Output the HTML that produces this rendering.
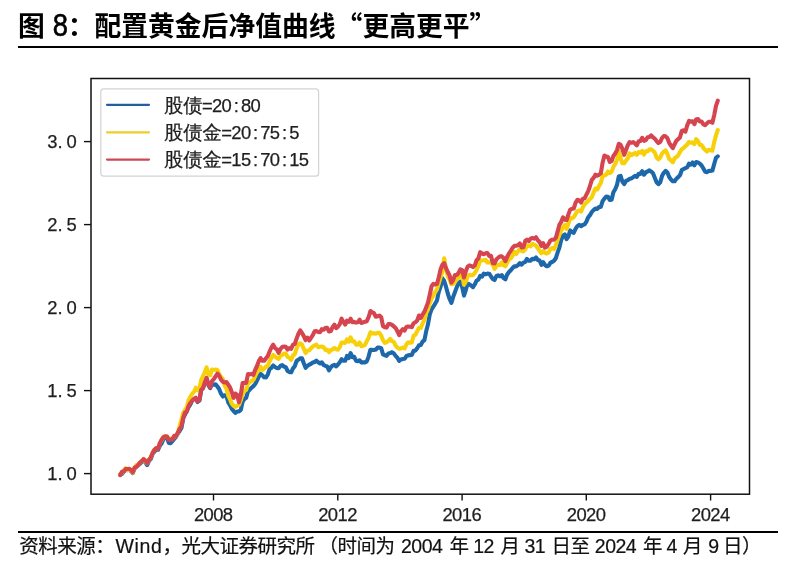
<!DOCTYPE html>
<html><head><meta charset="utf-8"><title>图 8</title>
<style>
html,body{margin:0;padding:0;background:#fff;}
body{width:792px;height:571px;position:relative;overflow:hidden;}
.title{position:absolute;left:18px;top:5px;font-family:"Liberation Sans","Noto Sans CJK SC",sans-serif;font-weight:bold;font-size:26.8px;line-height:40px;color:#000;white-space:nowrap;}
.rule{position:absolute;left:18px;width:760px;background:#000;}
.foot{position:absolute;left:0;top:532.5px;width:792px;height:28px;font-family:"Liberation Sans","Noto Sans CJK SC",sans-serif;font-size:19.5px;letter-spacing:-0.5px;-webkit-text-stroke:0.2px #111;line-height:26px;color:#111;white-space:nowrap;}
.foot span{position:absolute;top:0;}
.foot .w{letter-spacing:0.6px;}
svg{position:absolute;left:0;top:0;}
svg text{fill:#1e1e1e;stroke:#1e1e1e;stroke-width:0.25px;}
svg .l{font-family:"Liberation Sans",sans-serif;font-size:18.4px;}
svg .c{font-family:"Liberation Sans","WenQuanYi Zen Hei","Noto Sans CJK SC",sans-serif;font-size:19.3px;}
.q{font-family:"Noto Sans CJK SC",sans-serif;}
.d8{display:inline-block;font-size:29.8px;font-weight:normal;-webkit-text-stroke:0.6px #000;margin-right:-1.2px;transform:scale(0.92,1.075);transform-origin:50% 71%;}
</style></head><body>
<div class="title">图 <span class="d8">8</span>：配置黄金后净值曲线<span class="q">“</span>更高更平<span class="q">”</span></div>
<div class="rule" style="top:46px;height:2px"></div>
<svg width="792" height="571" viewBox="0 0 792 571">
<g fill="none" stroke-linejoin="round" stroke-linecap="round" stroke-width="4.1">
<path d="M120.2,474.7 L122.0,473.9 L123.8,471.7 L125.6,469.3 L127.4,470.1 L129.2,469.6 L131.0,471.1 L132.8,473.1 L134.6,468.6 L136.4,466.1 L138.2,465.4 L140.0,463.8 L141.8,461.9 L143.6,460.6 L145.4,462.3 L147.2,465.1 L149.0,461.0 L150.8,459.0 L152.6,453.8 L154.4,451.6 L156.2,449.6 L158.0,449.8 L159.8,445.8 L161.6,443.5 L163.4,439.1 L165.2,437.8 L167.0,437.6 L168.8,442.9 L170.6,443.2 L172.4,441.1 L174.2,438.9 L176.0,436.9 L177.8,433.5 L179.6,431.0 L181.4,428.0 L183.2,418.5 L185.0,414.5 L186.8,410.9 L188.6,407.1 L190.4,404.3 L192.2,400.4 L194.0,399.0 L195.8,398.5 L197.6,402.0 L199.4,400.6 L201.2,390.3 L203.0,388.1 L204.8,382.9 L206.6,379.2 L208.4,385.2 L210.2,388.2 L212.0,384.2 L213.8,384.7 L215.6,384.3 L217.4,386.5 L219.2,389.2 L221.0,393.7 L222.8,396.5 L224.6,395.3 L226.4,395.6 L228.2,402.3 L230.0,405.2 L231.8,408.9 L233.6,411.0 L235.4,412.9 L237.2,411.5 L239.0,411.4 L240.8,409.9 L242.6,401.7 L244.4,399.0 L246.2,397.8 L248.0,391.1 L249.8,389.6 L251.6,387.7 L253.4,386.1 L255.2,384.0 L257.0,380.5 L258.8,376.7 L260.6,373.9 L262.4,375.3 L264.2,377.3 L266.0,377.5 L267.8,374.5 L269.6,369.2 L271.4,367.8 L273.2,365.5 L275.0,367.0 L276.8,368.0 L278.6,368.2 L280.4,365.9 L282.2,365.0 L284.0,366.6 L285.8,367.2 L287.6,371.0 L289.4,372.1 L291.2,372.3 L293.0,368.4 L294.8,366.2 L296.6,361.0 L298.4,359.7 L300.2,358.2 L302.0,358.2 L303.8,363.2 L305.6,367.8 L307.4,365.9 L309.2,364.7 L311.0,363.8 L312.8,362.5 L314.6,362.0 L316.4,360.7 L318.2,362.3 L320.0,363.4 L321.8,362.3 L323.6,365.0 L325.4,365.9 L327.2,366.5 L329.0,370.3 L330.8,367.3 L332.6,365.6 L334.4,364.9 L336.2,366.4 L338.0,364.5 L339.8,362.2 L341.6,359.2 L343.4,360.8 L345.2,360.7 L347.0,355.9 L348.8,358.0 L350.6,353.1 L352.4,357.2 L354.2,356.8 L356.0,360.7 L357.8,361.3 L359.6,360.3 L361.4,362.6 L363.2,362.3 L365.0,362.4 L366.8,361.4 L368.6,356.6 L370.4,349.7 L372.2,349.9 L374.0,350.0 L375.8,349.6 L377.6,347.5 L379.4,347.6 L381.2,348.2 L383.0,354.3 L384.8,355.2 L386.6,355.8 L388.4,353.4 L390.2,353.1 L392.0,352.2 L393.8,353.4 L395.6,355.9 L397.4,357.7 L399.2,360.9 L401.0,359.5 L402.8,359.0 L404.6,358.8 L406.4,356.2 L408.2,355.3 L410.0,355.1 L411.8,354.9 L413.6,350.8 L415.4,350.6 L417.2,348.3 L419.0,345.3 L420.8,344.9 L422.6,341.6 L424.4,340.1 L426.2,331.3 L428.0,324.3 L429.8,314.2 L431.6,309.4 L433.4,306.5 L435.2,303.6 L437.0,300.4 L438.8,291.7 L440.6,286.6 L442.4,278.3 L444.2,281.0 L446.0,286.7 L447.8,293.5 L449.6,299.0 L451.4,302.9 L453.2,296.9 L455.0,292.0 L456.8,287.1 L458.6,283.2 L460.4,281.6 L462.2,287.0 L464.0,295.6 L465.8,290.0 L467.6,283.8 L469.4,284.3 L471.2,285.6 L473.0,287.1 L474.8,284.4 L476.6,280.7 L478.4,279.6 L480.2,275.9 L482.0,276.6 L483.8,273.7 L485.6,274.3 L487.4,273.6 L489.2,273.7 L491.0,276.5 L492.8,278.9 L494.6,280.0 L496.4,276.0 L498.2,275.4 L500.0,276.3 L501.8,275.1 L503.6,278.1 L505.4,279.3 L507.2,274.4 L509.0,272.0 L510.8,270.2 L512.6,268.0 L514.4,266.2 L516.2,266.4 L518.0,265.1 L519.8,263.1 L521.6,264.7 L523.4,262.6 L525.2,262.0 L527.0,258.9 L528.8,260.8 L530.6,260.6 L532.4,258.7 L534.2,259.2 L536.0,257.5 L537.8,260.0 L539.6,260.5 L541.4,264.8 L543.2,262.2 L545.0,265.0 L546.8,266.3 L548.6,265.6 L550.4,262.9 L552.2,261.9 L554.0,260.8 L555.8,258.3 L557.6,252.6 L559.4,247.6 L561.2,239.9 L563.0,235.6 L564.8,234.4 L566.6,239.2 L568.4,236.3 L570.2,230.4 L572.0,232.1 L573.8,232.8 L575.6,228.7 L577.4,226.1 L579.2,224.9 L581.0,226.2 L582.8,225.0 L584.6,224.4 L586.4,221.6 L588.2,217.3 L590.0,215.2 L591.8,211.9 L593.6,210.1 L595.4,208.5 L597.2,208.9 L599.0,207.0 L600.8,207.0 L602.6,201.2 L604.4,198.6 L606.2,196.6 L608.0,196.7 L609.8,200.0 L611.6,199.7 L613.4,192.2 L615.2,189.2 L617.0,184.9 L618.8,176.5 L620.6,175.9 L622.4,181.7 L624.2,184.1 L626.0,180.9 L627.8,180.2 L629.6,178.8 L631.4,178.4 L633.2,177.2 L635.0,175.9 L636.8,176.8 L638.6,173.9 L640.4,174.0 L642.2,171.2 L644.0,174.7 L645.8,172.4 L647.6,171.4 L649.4,170.3 L651.2,171.6 L653.0,173.3 L654.8,177.7 L656.6,182.3 L658.4,184.2 L660.2,182.4 L662.0,176.1 L663.8,172.8 L665.6,170.9 L667.4,172.5 L669.2,177.1 L671.0,179.5 L672.8,181.3 L674.6,181.3 L676.4,178.7 L678.2,177.1 L680.0,175.2 L681.8,170.1 L683.6,169.0 L685.4,168.1 L687.2,167.4 L689.0,163.7 L690.8,164.7 L692.6,162.5 L694.4,165.3 L696.2,162.1 L698.0,162.4 L699.8,163.6 L701.6,165.5 L703.4,168.5 L705.2,171.7 L707.0,172.2 L708.8,170.7 L710.6,170.9 L712.4,170.6 L714.2,164.0 L716.0,157.8 L717.8,156.3" stroke="#1d68aa"/>
<path d="M120.2,474.2 L122.0,472.8 L123.8,470.9 L125.6,468.2 L127.4,470.1 L129.2,469.4 L131.0,470.8 L132.8,472.7 L134.6,468.0 L136.4,465.0 L138.2,465.1 L140.0,462.5 L141.8,461.1 L143.6,459.0 L145.4,461.4 L147.2,463.3 L149.0,459.7 L150.8,457.2 L152.6,452.6 L154.4,449.6 L156.2,448.4 L158.0,448.3 L159.8,443.1 L161.6,440.3 L163.4,436.9 L165.2,436.3 L167.0,436.5 L168.8,438.9 L170.6,438.8 L172.4,438.5 L174.2,436.7 L176.0,436.1 L177.8,432.9 L179.6,426.4 L181.4,419.7 L183.2,413.0 L185.0,410.0 L186.8,407.4 L188.6,400.2 L190.4,396.7 L192.2,393.7 L194.0,391.8 L195.8,387.7 L197.6,390.2 L199.4,388.7 L201.2,380.0 L203.0,376.2 L204.8,372.0 L206.6,367.4 L208.4,374.5 L210.2,375.2 L212.0,369.6 L213.8,369.9 L215.6,369.5 L217.4,369.9 L219.2,374.0 L221.0,377.0 L222.8,378.7 L224.6,385.4 L226.4,388.6 L228.2,395.6 L230.0,399.0 L231.8,403.7 L233.6,405.8 L235.4,406.9 L237.2,405.7 L239.0,404.8 L240.8,400.2 L242.6,394.5 L244.4,390.7 L246.2,390.0 L248.0,383.5 L249.8,382.4 L251.6,381.0 L253.4,379.8 L255.2,376.2 L257.0,372.2 L258.8,369.9 L260.6,366.8 L262.4,370.0 L264.2,368.7 L266.0,366.6 L267.8,365.7 L269.6,361.3 L271.4,358.1 L273.2,355.0 L275.0,356.6 L276.8,357.9 L278.6,358.8 L280.4,355.9 L282.2,355.0 L284.0,353.5 L285.8,353.6 L287.6,357.0 L289.4,357.8 L291.2,359.8 L293.0,355.5 L294.8,354.2 L296.6,348.5 L298.4,344.5 L300.2,343.3 L302.0,344.4 L303.8,348.9 L305.6,353.0 L307.4,350.7 L309.2,350.3 L311.0,348.4 L312.8,346.5 L314.6,345.4 L316.4,344.6 L318.2,347.2 L320.0,346.8 L321.8,346.5 L323.6,347.1 L325.4,350.0 L327.2,349.7 L329.0,352.1 L330.8,350.2 L332.6,349.3 L334.4,348.0 L336.2,349.3 L338.0,349.7 L339.8,347.1 L341.6,342.5 L343.4,342.6 L345.2,342.9 L347.0,339.4 L348.8,341.7 L350.6,337.4 L352.4,341.4 L354.2,341.2 L356.0,344.6 L357.8,344.8 L359.6,342.5 L361.4,346.2 L363.2,345.7 L365.0,345.0 L366.8,341.1 L368.6,337.7 L370.4,332.3 L372.2,333.5 L374.0,333.3 L375.8,333.8 L377.6,332.7 L379.4,332.9 L381.2,335.5 L383.0,340.2 L384.8,342.8 L386.6,342.2 L388.4,340.8 L390.2,338.8 L392.0,341.2 L393.8,341.9 L395.6,345.5 L397.4,347.6 L399.2,348.7 L401.0,348.4 L402.8,347.5 L404.6,348.3 L406.4,344.4 L408.2,342.3 L410.0,342.8 L411.8,342.5 L413.6,335.8 L415.4,334.7 L417.2,331.3 L419.0,327.7 L420.8,327.9 L422.6,323.4 L424.4,319.8 L426.2,312.9 L428.0,309.5 L429.8,303.3 L431.6,298.5 L433.4,295.0 L435.2,292.0 L437.0,289.3 L438.8,283.5 L440.6,277.5 L442.4,270.4 L444.2,258.4 L446.0,269.0 L447.8,276.6 L449.6,279.5 L451.4,284.2 L453.2,283.9 L455.0,281.8 L456.8,279.1 L458.6,277.7 L460.4,273.6 L462.2,275.3 L464.0,284.8 L465.8,281.8 L467.6,276.3 L469.4,274.8 L471.2,275.2 L473.0,275.0 L474.8,272.9 L476.6,270.1 L478.4,265.5 L480.2,260.5 L482.0,260.5 L483.8,260.3 L485.6,259.8 L487.4,262.5 L489.2,262.2 L491.0,262.4 L492.8,264.9 L494.6,268.9 L496.4,265.9 L498.2,264.8 L500.0,265.1 L501.8,262.4 L503.6,265.3 L505.4,266.3 L507.2,262.6 L509.0,259.2 L510.8,258.3 L512.6,255.6 L514.4,251.9 L516.2,254.0 L518.0,251.4 L519.8,249.4 L521.6,250.8 L523.4,251.5 L525.2,249.3 L527.0,245.4 L528.8,245.8 L530.6,246.4 L532.4,243.9 L534.2,244.6 L536.0,245.8 L537.8,248.3 L539.6,250.8 L541.4,253.2 L543.2,251.2 L545.0,252.9 L546.8,253.6 L548.6,252.5 L550.4,248.9 L552.2,248.1 L554.0,249.0 L555.8,245.4 L557.6,240.2 L559.4,234.7 L561.2,230.5 L563.0,227.3 L564.8,225.0 L566.6,228.8 L568.4,223.5 L570.2,217.9 L572.0,218.5 L573.8,217.2 L575.6,214.0 L577.4,211.1 L579.2,210.5 L581.0,211.6 L582.8,207.4 L584.6,204.4 L586.4,202.5 L588.2,201.0 L590.0,198.9 L591.8,197.3 L593.6,192.5 L595.4,188.7 L597.2,189.5 L599.0,185.8 L600.8,183.0 L602.6,176.0 L604.4,175.5 L606.2,174.6 L608.0,171.5 L609.8,173.2 L611.6,171.9 L613.4,166.9 L615.2,164.0 L617.0,159.7 L618.8,150.9 L620.6,158.3 L622.4,163.2 L624.2,163.3 L626.0,160.7 L627.8,158.2 L629.6,153.4 L631.4,155.2 L633.2,154.0 L635.0,152.9 L636.8,154.8 L638.6,152.1 L640.4,152.7 L642.2,150.9 L644.0,154.6 L645.8,151.4 L647.6,151.2 L649.4,149.4 L651.2,149.4 L653.0,150.6 L654.8,152.6 L656.6,157.5 L658.4,159.3 L660.2,157.8 L662.0,153.6 L663.8,151.7 L665.6,150.4 L667.4,153.9 L669.2,159.0 L671.0,160.4 L672.8,162.3 L674.6,158.3 L676.4,157.1 L678.2,155.4 L680.0,151.8 L681.8,149.2 L683.6,148.0 L685.4,146.1 L687.2,144.6 L689.0,142.0 L690.8,142.6 L692.6,142.5 L694.4,144.1 L696.2,139.1 L698.0,141.1 L699.8,145.0 L701.6,145.0 L703.4,148.0 L705.2,149.9 L707.0,151.5 L708.8,149.8 L710.6,150.2 L712.4,150.7 L714.2,142.0 L716.0,135.4 L717.8,130.0" stroke="#f8d00a"/>
<path d="M120.2,475.1 L122.0,471.8 L123.8,471.3 L125.6,469.1 L127.4,469.0 L129.2,468.8 L131.0,469.9 L132.8,472.2 L134.6,467.4 L136.4,466.9 L138.2,464.8 L140.0,462.5 L141.8,461.1 L143.6,459.1 L145.4,460.6 L147.2,463.2 L149.0,459.7 L150.8,457.4 L152.6,453.0 L154.4,449.9 L156.2,448.0 L158.0,449.0 L159.8,443.2 L161.6,439.8 L163.4,437.3 L165.2,436.2 L167.0,436.5 L168.8,439.6 L170.6,439.6 L172.4,439.7 L174.2,435.9 L176.0,435.9 L177.8,432.8 L179.6,428.9 L181.4,426.4 L183.2,417.8 L185.0,412.6 L186.8,411.6 L188.6,406.0 L190.4,402.9 L192.2,400.6 L194.0,399.0 L195.8,397.7 L197.6,401.3 L199.4,400.0 L201.2,389.7 L203.0,388.0 L204.8,382.4 L206.6,377.8 L208.4,384.3 L210.2,387.3 L212.0,381.1 L213.8,379.2 L215.6,376.3 L217.4,373.6 L219.2,375.8 L221.0,379.6 L222.8,381.8 L224.6,382.5 L226.4,382.1 L228.2,384.5 L230.0,387.3 L231.8,392.2 L233.6,397.9 L235.4,393.5 L237.2,394.9 L239.0,402.3 L240.8,394.6 L242.6,383.1 L244.4,382.7 L246.2,382.9 L248.0,374.1 L249.8,374.2 L251.6,373.9 L253.4,374.8 L255.2,369.8 L257.0,366.0 L258.8,361.1 L260.6,358.1 L262.4,360.8 L264.2,360.8 L266.0,358.3 L267.8,356.1 L269.6,351.5 L271.4,347.5 L273.2,344.7 L275.0,348.0 L276.8,349.4 L278.6,352.8 L280.4,349.0 L282.2,347.0 L284.0,346.5 L285.8,346.8 L287.6,349.6 L289.4,348.1 L291.2,348.8 L293.0,344.6 L294.8,344.0 L296.6,338.6 L298.4,333.7 L300.2,330.4 L302.0,333.0 L303.8,336.1 L305.6,340.1 L307.4,337.7 L309.2,340.5 L311.0,337.9 L312.8,335.2 L314.6,331.3 L316.4,331.1 L318.2,332.0 L320.0,332.3 L321.8,329.2 L323.6,329.7 L325.4,327.9 L327.2,327.9 L329.0,331.5 L330.8,331.0 L332.6,327.2 L334.4,324.6 L336.2,328.2 L338.0,326.7 L339.8,324.1 L341.6,318.7 L343.4,321.9 L345.2,324.6 L347.0,320.7 L348.8,321.9 L350.6,318.7 L352.4,322.2 L354.2,321.9 L356.0,322.6 L357.8,322.3 L359.6,319.7 L361.4,323.0 L363.2,322.4 L365.0,321.7 L366.8,321.2 L368.6,317.2 L370.4,311.0 L372.2,312.3 L374.0,313.2 L375.8,316.7 L377.6,316.3 L379.4,315.5 L381.2,317.2 L383.0,326.0 L384.8,327.2 L386.6,327.6 L388.4,324.0 L390.2,324.0 L392.0,324.9 L393.8,326.4 L395.6,328.0 L397.4,331.3 L399.2,335.2 L401.0,331.1 L402.8,329.2 L404.6,330.5 L406.4,327.0 L408.2,326.5 L410.0,326.8 L411.8,327.1 L413.6,323.2 L415.4,322.2 L417.2,320.5 L419.0,315.5 L420.8,317.9 L422.6,314.6 L424.4,311.7 L426.2,307.2 L428.0,302.5 L429.8,294.5 L431.6,286.2 L433.4,283.8 L435.2,284.5 L437.0,283.9 L438.8,277.3 L440.6,269.2 L442.4,264.7 L444.2,263.1 L446.0,268.2 L447.8,272.1 L449.6,275.4 L451.4,282.7 L453.2,279.8 L455.0,275.1 L456.8,275.0 L458.6,272.7 L460.4,269.4 L462.2,270.1 L464.0,277.4 L465.8,271.4 L467.6,266.6 L469.4,265.4 L471.2,265.9 L473.0,267.1 L474.8,265.4 L476.6,260.2 L478.4,258.4 L480.2,252.1 L482.0,253.4 L483.8,254.3 L485.6,253.2 L487.4,253.0 L489.2,256.0 L491.0,255.7 L492.8,263.2 L494.6,263.4 L496.4,259.2 L498.2,257.7 L500.0,256.4 L501.8,256.4 L503.6,258.1 L505.4,261.2 L507.2,256.8 L509.0,253.4 L510.8,250.8 L512.6,247.7 L514.4,245.9 L516.2,245.7 L518.0,245.2 L519.8,243.4 L521.6,247.5 L523.4,247.2 L525.2,241.0 L527.0,239.7 L528.8,241.2 L530.6,238.6 L532.4,238.0 L534.2,238.7 L536.0,237.2 L537.8,240.2 L539.6,242.0 L541.4,245.8 L543.2,243.2 L545.0,247.6 L546.8,246.6 L548.6,243.9 L550.4,240.5 L552.2,239.7 L554.0,239.7 L555.8,237.8 L557.6,231.7 L559.4,224.8 L561.2,221.9 L563.0,217.3 L564.8,219.7 L566.6,220.1 L568.4,214.4 L570.2,209.6 L572.0,208.8 L573.8,208.4 L575.6,202.6 L577.4,199.8 L579.2,200.4 L581.0,202.5 L582.8,198.7 L584.6,198.3 L586.4,194.6 L588.2,191.1 L590.0,186.0 L591.8,179.9 L593.6,177.9 L595.4,174.7 L597.2,175.7 L599.0,174.8 L600.8,173.3 L602.6,162.7 L604.4,155.6 L606.2,156.6 L608.0,157.1 L609.8,162.0 L611.6,161.0 L613.4,155.9 L615.2,153.5 L617.0,150.1 L618.8,143.8 L620.6,144.8 L622.4,148.9 L624.2,154.8 L626.0,150.0 L627.8,145.2 L629.6,142.1 L631.4,142.8 L633.2,142.0 L635.0,143.5 L636.8,145.3 L638.6,141.3 L640.4,140.9 L642.2,137.8 L644.0,140.8 L645.8,140.1 L647.6,137.3 L649.4,137.0 L651.2,135.4 L653.0,137.3 L654.8,138.6 L656.6,141.1 L658.4,143.0 L660.2,142.0 L662.0,138.0 L663.8,136.0 L665.6,136.3 L667.4,138.2 L669.2,142.8 L671.0,145.7 L672.8,148.1 L674.6,144.2 L676.4,140.7 L678.2,139.1 L680.0,137.4 L681.8,130.9 L683.6,130.3 L685.4,131.7 L687.2,125.4 L689.0,120.9 L690.8,121.7 L692.6,121.2 L694.4,124.2 L696.2,119.2 L698.0,119.1 L699.8,121.5 L701.6,121.5 L703.4,124.4 L705.2,125.2 L707.0,123.3 L708.8,121.7 L710.6,121.8 L712.4,122.8 L714.2,115.1 L716.0,105.8 L717.8,100.6" stroke="#d6454f"/>
</g>
<rect x="91" y="78.5" width="658.5" height="415.7" fill="none" stroke="#111" stroke-width="1.5"/>
<g stroke="#111" stroke-width="1.4"><line x1="84" y1="473.6" x2="91" y2="473.6"/><line x1="84" y1="390.6" x2="91" y2="390.6"/><line x1="84" y1="307.6" x2="91" y2="307.6"/><line x1="84" y1="224.6" x2="91" y2="224.6"/><line x1="84" y1="141.6" x2="91" y2="141.6"/><line x1="213.5" y1="494" x2="213.5" y2="500.5"/><line x1="337.8" y1="494" x2="337.8" y2="500.5"/><line x1="462.1" y1="494" x2="462.1" y2="500.5"/><line x1="586.3" y1="494" x2="586.3" y2="500.5"/><line x1="710.6" y1="494" x2="710.6" y2="500.5"/></g>
<g><text y="480.2"><tspan class="l" x="47.26 57.60 66.56">1.0</tspan></text><text y="397.2"><tspan class="l" x="47.26 57.60 66.56">1.5</tspan></text><text y="314.2"><tspan class="l" x="47.26 57.60 66.56">2.0</tspan></text><text y="231.2"><tspan class="l" x="47.26 57.60 66.56">2.5</tspan></text><text y="148.2"><tspan class="l" x="47.26 57.60 66.56">3.0</tspan></text><text y="520.7"><tspan class="l" x="193.91 203.56 213.21 222.86">2008</tspan></text><text y="520.7"><tspan class="l" x="318.19 327.84 337.49 347.14">2012</tspan></text><text y="520.7"><tspan class="l" x="442.47 452.12 461.77 471.42">2016</tspan></text><text y="520.7"><tspan class="l" x="566.75 576.40 586.05 595.70">2020</tspan></text><text y="520.7"><tspan class="l" x="691.03 700.68 710.33 719.98">2024</tspan></text></g>
<rect x="100.8" y="88.8" width="217.8" height="87.4" rx="3" ry="3" fill="#fff" fill-opacity="0.8" stroke="#d3d3d3" stroke-width="1.2"/>
<g stroke-width="2.2" stroke-linecap="round">
<line x1="107" y1="104.8" x2="149" y2="104.8" stroke="#22609c"/>
<line x1="107" y1="132.3" x2="149" y2="132.3" stroke="#efcc26"/>
<line x1="107" y1="159.6" x2="149" y2="159.6" stroke="#cc4a56"/>
</g>
<text y="111.6"><tspan class="c" x="164.00 183.30">股债</tspan><tspan class="l" x="202.05 211.96 221.61 233.82 240.91 250.56">=20:80</tspan></text>
<text y="139.0"><tspan class="c" x="164.00 183.30 202.60">股债金</tspan><tspan class="l" x="221.35 231.26 240.91 253.12 260.21 269.86 282.07 289.16">=20:75:5</tspan></text>
<text y="166.3"><tspan class="c" x="164.00 183.30 202.60">股债金</tspan><tspan class="l" x="221.35 231.26 240.91 253.12 260.21 269.86 282.07 289.16 298.81">=15:70:15</tspan></text>
</svg>
<div class="rule" style="top:530.8px;height:1.8px"></div>
<div class="foot"><span id="f0" style="left:19.20px">资料来源：</span><span id="f1" class="w" style="left:115.60px">Wind</span><span id="f2" style="left:162.40px">，光大证券研究所</span><span id="f3" style="left:318.40px">（时间为</span><span id="f4" style="left:401.00px">2004</span><span id="f5" style="left:449.60px">年</span><span id="f6" style="left:473.20px">12</span><span id="f7" style="left:500.60px">月</span><span id="f8" style="left:524.40px">31</span><span id="f9" style="left:551.60px">日至</span><span id="f10" style="left:594.80px">2024</span><span id="f11" style="left:643.00px">年</span><span id="f12" style="left:666.40px">4</span><span id="f13" style="left:683.00px">月</span><span id="f14" style="left:708.20px">9</span><span id="f15" style="left:723.00px">日）</span></div>
</body></html>
